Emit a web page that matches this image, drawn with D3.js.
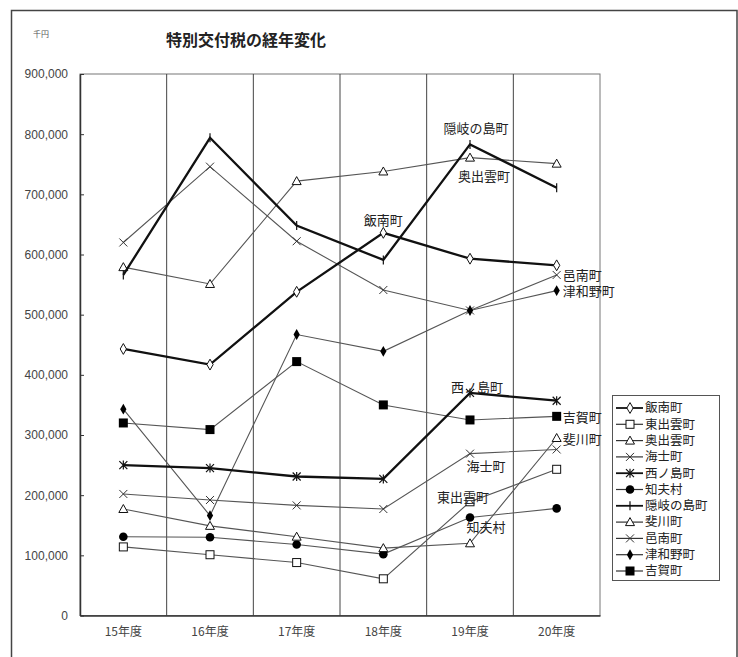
<!DOCTYPE html>
<html>
<head>
<meta charset="utf-8">
<script src="https://cdn.jsdelivr.net/npm/d3@7"></script>
<style>
  html, body { margin: 0; padding: 0; background: #fff; }
  svg { display: block; }
</style>
</head>
<body>
<svg id="chart" width="738" height="657"></svg>
<script>
// 特別交付税の経年変化（単位：千円）
const years = ["15年度", "16年度", "17年度", "18年度", "19年度", "20年度"];
const yTicks = [0, 100000, 200000, 300000, 400000, 500000, 600000, 700000, 800000, 900000];

const towns = ["飯南町", "東出雲町", "奥出雲町", "海士町", "西ノ島町", "知夫村",
               "隠岐の島町", "斐川町", "邑南町", "津和野町", "吉賀町"];

const iinan        = [443000, 417000, 538000, 636000, 593000, 582000];
const higashiIzumo = [114000, 101000, 88000, 61000, 189000, 243000];
const okuIzumo     = [579000, 551000, 722000, 738000, 761000, 751000];
const ama          = [202000, 192000, 183000, 177000, 269000, 276000];
const nishinoshima = [250000, 245000, 231000, 227000, 370000, 357000];
const chibu        = [131000, 130000, 118000, 102000, 163000, 178000];
const okinoshima   = [566000, 794000, 648000, 591000, 783000, 711000];
const hikawa       = [177000, 149000, 131000, 112000, 120000, 295000];
const ohnan        = [620000, 746000, 622000, 541000, 507000, 566000];
const tsuwano      = [343000, 166000, 467000, 439000, 507000, 540000];
const yoshika      = [320000, 309000, 422000, 350000, 325000, 331000];

const seriesValues = [iinan, higashiIzumo, okuIzumo, ama, nishinoshima, chibu,
                      okinoshima, hikawa, ohnan, tsuwano, yoshika];

// marker shape and line weight per town
const markers = ["diamondOpen", "squareOpen", "triangleOpen", "cross", "asterisk", "circle",
                 "plus", "triangleOpen", "cross", "diamond", "square"];
const heavy = [true, false, false, false, true, false, true, false, false, false, false];

// where each in-plot name tag sits: town index, year index, offset, anchor
const tags = [
  { t: 6, i: 4, dx: 6,  dy: -16, a: "middle" },
  { t: 2, i: 4, dx: 14, dy: 19,  a: "middle" },
  { t: 0, i: 3, dx: 0,  dy: -12, a: "middle" },
  { t: 8, i: 5, dx: 6,  dy: 0,   a: "start" },
  { t: 9, i: 5, dx: 6,  dy: 1,   a: "start" },
  { t: 4, i: 4, dx: 7,  dy: -5,  a: "middle" },
  { t: 10, i: 5, dx: 6, dy: 1,   a: "start" },
  { t: 7, i: 5, dx: 6,  dy: 1,   a: "start" },
  { t: 3, i: 4, dx: 16, dy: 13,  a: "middle" },
  { t: 1, i: 4, dx: -7, dy: -4,  a: "middle" },
  { t: 5, i: 4, dx: 16, dy: 10,  a: "middle" }
];

const svg = d3.select("#chart");
const jp = "'Noto Sans CJK JP', 'Noto Sans', sans-serif";
const num = "'Liberation Sans', Arial, sans-serif";

const plot = { left: 80, right: 600, top: 74, bottom: 615.5 };

const x = d3.scaleBand().domain(years).range([plot.left, plot.right]);
const y = d3.scaleLinear().domain([0, 900000]).range([plot.bottom, plot.top]);
const cx = d => x(d) + x.bandwidth() / 2;

// outer frame
svg.append("rect")
  .attr("x", 11.5).attr("y", 10.5).attr("width", 725.5).attr("height", 700)
  .attr("fill", "none").attr("stroke", "#444").attr("stroke-width", 1.5);

// unit and title
svg.append("text").attr("x", 33).attr("y", 37)
  .attr("font-family", jp).attr("font-size", 8).attr("fill", "#555").text("千円");
svg.append("text").attr("x", 166).attr("y", 46)
  .attr("font-family", jp).attr("font-size", 16).attr("font-weight", "bold")
  .attr("fill", "#222").text("特別交付税の経年変化");

// plot frame
svg.append("rect")
  .attr("x", plot.left).attr("y", plot.top)
  .attr("width", plot.right - plot.left).attr("height", plot.bottom - plot.top)
  .attr("fill", "none").attr("stroke", "#777").attr("stroke-width", 1);

// vertical separators between years
svg.append("g").selectAll("line")
  .data(years.slice(1))
  .join("line")
  .attr("x1", d => x(d)).attr("x2", d => x(d))
  .attr("y1", plot.top).attr("y2", plot.bottom)
  .attr("stroke", "#444").attr("stroke-width", 1);

// y axis
const yAxis = svg.append("g")
  .attr("transform", `translate(${plot.left},0)`)
  .call(d3.axisLeft(y).tickValues(yTicks).tickSizeInner(-4).tickSizeOuter(0)
    .tickPadding(12).tickFormat(d3.format(",")));
yAxis.select(".domain").attr("stroke", "#333").attr("stroke-width", 1.5);
yAxis.selectAll(".tick line").attr("stroke", "#333");
yAxis.selectAll("text").attr("font-family", num).attr("font-size", 12).attr("fill", "#444");

// x axis
const xAxis = svg.append("g")
  .attr("transform", `translate(0,${plot.bottom})`)
  .call(d3.axisBottom(x).tickSize(0).tickPadding(12));
xAxis.select(".domain").attr("stroke", "#333").attr("stroke-width", 1.5);
xAxis.selectAll("text").attr("font-family", jp).attr("font-size", 12).attr("fill", "#444");

// marker drawing
function drawMarker(g, kind) {
  const stroke = "#111";
  switch (kind) {
    case "diamondOpen":
      g.append("path").attr("d", d3.symbol(d3.symbolDiamond, 34)())
        .attr("fill", "#fff").attr("stroke", stroke).attr("stroke-width", 1);
      break;
    case "diamond":
      g.append("path").attr("d", d3.symbol(d3.symbolDiamond, 34)())
        .attr("fill", "#000");
      break;
    case "squareOpen":
      g.append("rect").attr("x", -4).attr("y", -4).attr("width", 8).attr("height", 8)
        .attr("fill", "#fff").attr("stroke", stroke).attr("stroke-width", 1);
      break;
    case "square":
      g.append("rect").attr("x", -4.5).attr("y", -4.5).attr("width", 9).attr("height", 9)
        .attr("fill", "#000");
      break;
    case "triangleOpen":
      g.append("path").attr("d", "M0,-4.5L4.5,3.5L-4.5,3.5Z")
        .attr("fill", "#fff").attr("stroke", stroke).attr("stroke-width", 1);
      break;
    case "circle":
      g.append("circle").attr("r", 4.3).attr("fill", "#000");
      break;
    case "cross":
      g.append("path").attr("d", "M-4,-4L4,4M-4,4L4,-4")
        .attr("stroke", "#333").attr("stroke-width", 1).attr("fill", "none");
      break;
    case "asterisk":
      g.append("path").attr("d", "M-4,-4L4,4M-4,4L4,-4M0,-4.5L0,4.5")
        .attr("stroke", "#111").attr("stroke-width", 1.2).attr("fill", "none");
      break;
    case "plus":
      g.append("path").attr("d", "M0,-4.5L0,4.5")
        .attr("stroke", "#111").attr("stroke-width", 1.2).attr("fill", "none");
      break;
  }
}

const line = d3.line().x((d, i) => cx(years[i])).y(d => y(d));

const seriesG = svg.append("g");
// thin series first, heavy ones on top
const order = d3.range(towns.length).sort((a, b) => (heavy[a] - heavy[b]));
order.forEach(k => {
  const g = seriesG.append("g");
  g.append("path")
    .datum(seriesValues[k])
    .attr("d", line)
    .attr("fill", "none")
    .attr("stroke", heavy[k] ? "#111" : "#555")
    .attr("stroke-width", heavy[k] ? 2.3 : 1.1)
    .attr("stroke-linejoin", "miter");
  g.selectAll("g.pt")
    .data(seriesValues[k])
    .join("g")
    .attr("class", "pt")
    .attr("transform", (d, i) => `translate(${cx(years[i])},${y(d)})`)
    .each(function () { drawMarker(d3.select(this), markers[k]); });
});

// in-plot name tags
svg.append("g").selectAll("text")
  .data(tags)
  .join("text")
  .attr("x", d => cx(years[d.i]) + d.dx)
  .attr("y", d => y(seriesValues[d.t][d.i]) + d.dy)
  .attr("dy", "0.35em")
  .attr("text-anchor", d => d.a)
  .attr("font-family", jp).attr("font-size", 13).attr("fill", "#222")
  .text(d => towns[d.t]);

// legend
const lg = svg.append("g").attr("transform", "translate(612,395)");
lg.append("rect").attr("x", 0.5).attr("y", 0.5).attr("width", 107).attr("height", 185)
  .attr("fill", "#fff").attr("stroke", "#555").attr("stroke-width", 1);
towns.forEach((t, k) => {
  const row = lg.append("g").attr("transform", `translate(0,${13 + k * 16.3})`);
  row.append("line").attr("x1", 4).attr("x2", 31).attr("y1", 0).attr("y2", 0)
    .attr("stroke", heavy[k] ? "#111" : "#333").attr("stroke-width", heavy[k] ? 1.8 : 1.2);
  drawMarker(row.append("g").attr("transform", "translate(18,0)"), markers[k]);
  row.append("text").attr("x", 33).attr("y", 0).attr("dy", "0.35em")
    .attr("font-family", jp).attr("font-size", 12.5).attr("fill", "#222").text(t);
});
</script>
</body>
</html>
